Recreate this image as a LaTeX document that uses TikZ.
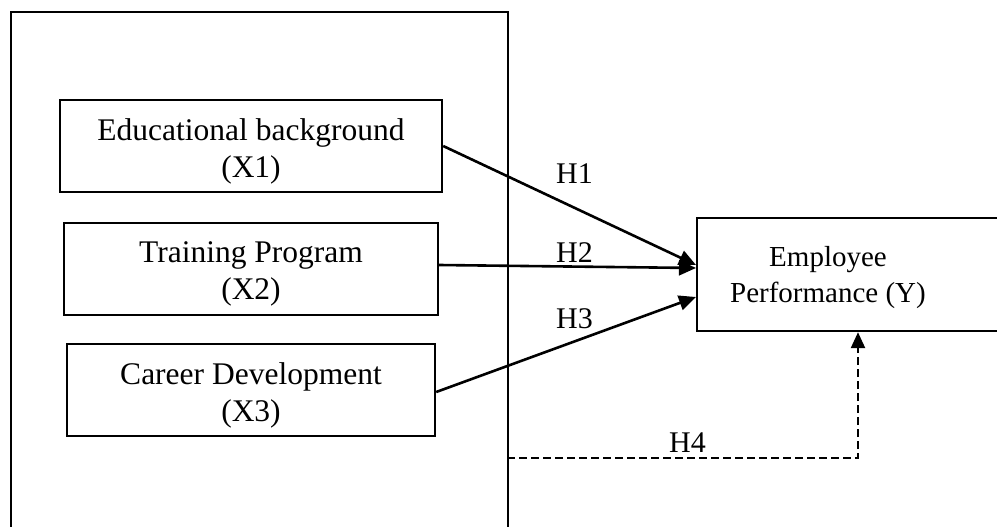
\documentclass[tikz,border=0pt]{standalone}
\usepackage{fontspec}
\setmainfont{Liberation Serif}
\usetikzlibrary{arrows.meta,calc}
\tikzset{
  box/.style={draw, line width=2.4pt, rectangle, inner sep=0pt},
  txt/.style={align=center, inner sep=0pt},
  hyp/.style={inner sep=0pt, anchor=base west, font=\fontsize{30}{30}\selectfont},
  link/.style={line width=2.6pt, -{Triangle[length=17pt,width=15pt]}},
  dlink/.style={line width=2.4pt, dash pattern=on 8pt off 4pt, -{Triangle[length=16pt,width=14pt]}}
}
\begin{document}
\begin{tikzpicture}[x=1pt,y=-1pt]
\useasboundingbox (0,0) rectangle (997,527);
\clip (0,0) rectangle (997,527);
\fill[white] (0,0) rectangle (997,527);
% outer frame (bottom edge outside the picture)
\node[draw, line width=2pt, minimum width=497pt, minimum height=560pt, inner sep=0pt, anchor=north west] (outer) at (10,11) {};
% boxes
\node[box, minimum width=382pt, minimum height=92pt] (x1) at (251,146) {};
\node[box, minimum width=374pt, minimum height=92pt] (x2) at (251,269) {};
\node[box, minimum width=368pt, minimum height=92pt] (x3) at (251,390) {};
\node[box, minimum width=320pt, minimum height=113pt, anchor=west] (y) at (696,274.5) {};
% texts
\node[txt, font=\fontsize{31.5}{37}\selectfont] (t1) at (251,151) {Educational background\\(X1)};
\node[txt, font=\fontsize{31.5}{37}\selectfont] (t2) at (251,274) {Training Program\\(X2)};
\node[txt, font=\fontsize{31.5}{37}\selectfont] (t3) at (251,395) {Career Development\\(X3)};
\node[txt, font=\fontsize{29}{36}\selectfont] (ty) at (828,278) {Employee\\Performance (Y)};
% connectors
\draw[link] (x1.east) -- ([yshift=9.5pt]y.west);
\draw[link] ([yshift=4pt]x2.east) -- ([yshift=6.5pt]y.west);
\draw[link] ([yshift=-2pt]x3.east) -- ([yshift=-22.5pt]y.west);
\coordinate (h4s) at (507,458);
\coordinate (h4c) at (858,458);
\draw[dlink] (h4s) -- (h4c) -- (h4c |- y.south);
% labels
\node[hyp] (h1) at (556,183) {H1};
\node[hyp] (h2) at (556,262) {H2};
\node[hyp] (h3) at (556,328) {H3};
\node[hyp] (h4) at (669,452) {H4};
\end{tikzpicture}
\end{document}
